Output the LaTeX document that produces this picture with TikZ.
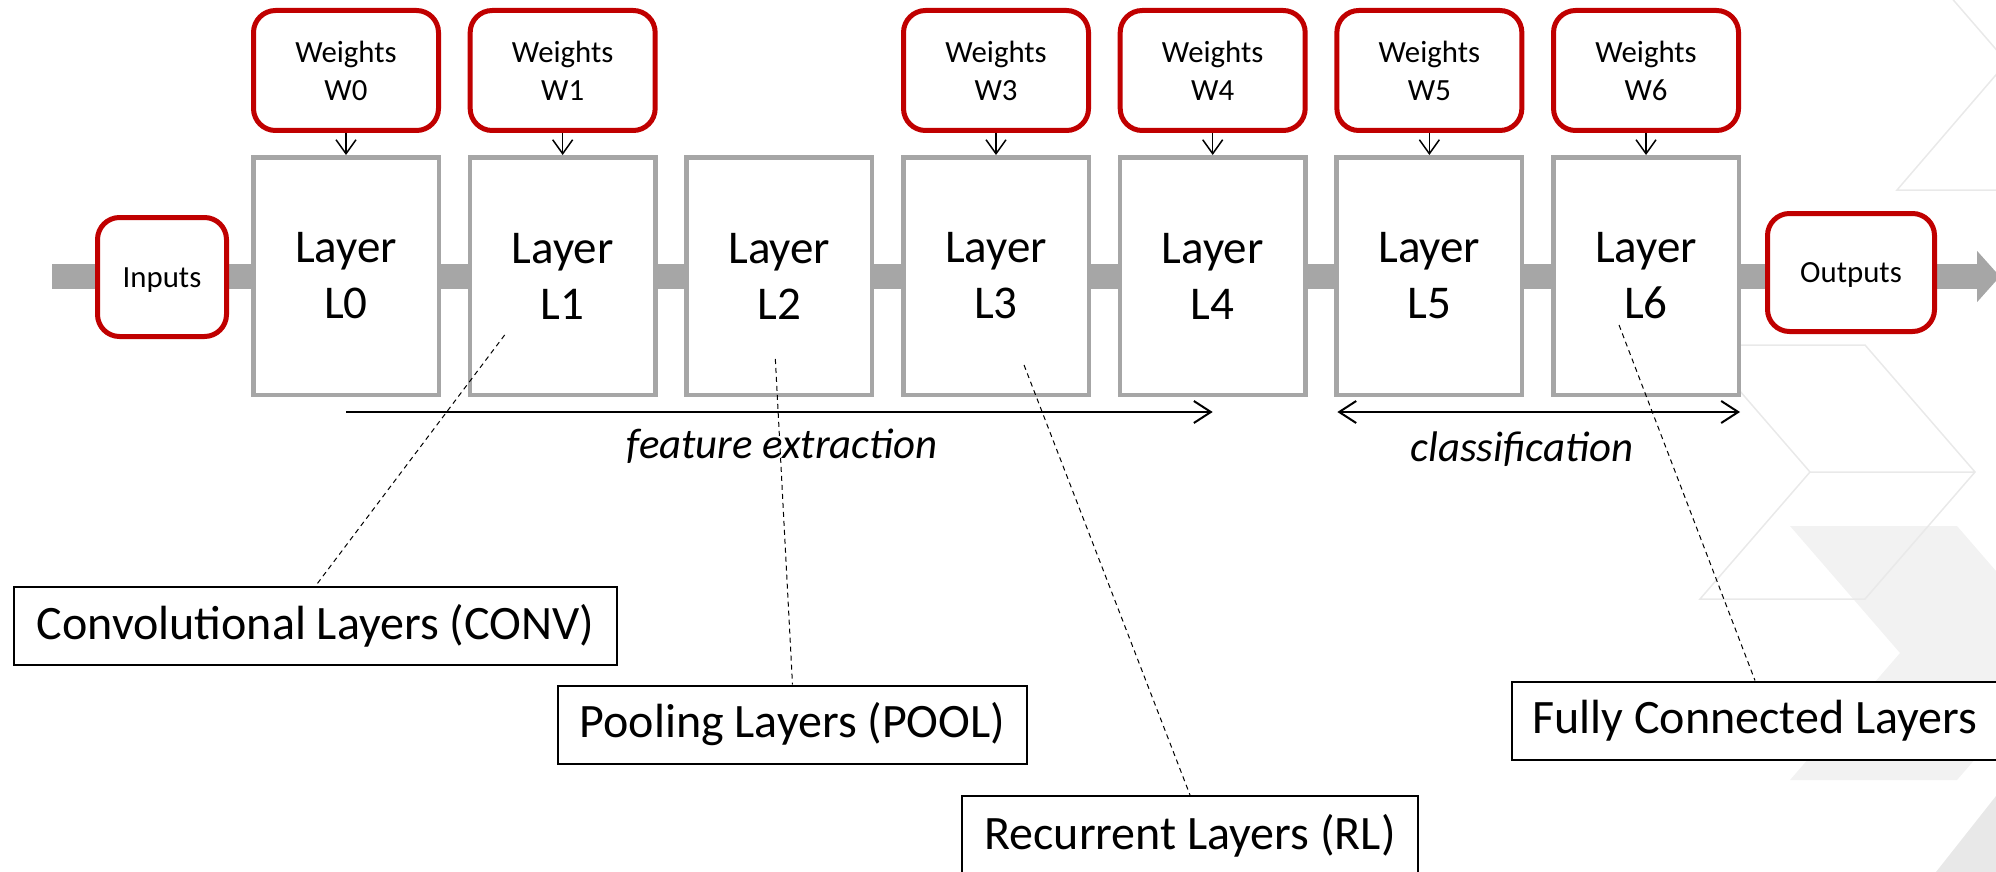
\documentclass[tikz,border=0pt]{standalone}
\usepackage{fontspec}
\setmainfont{Carlito}
\usetikzlibrary{arrows.meta,calc}
\definecolor{wred}{HTML}{C00000}
\definecolor{lgray}{HTML}{A6A6A6}
\definecolor{bgline}{HTML}{E9E9E9}
\definecolor{bgfill}{HTML}{F2F2F2}
\definecolor{bgdark}{HTML}{E8E8E8}
\tikzset{
  layerbox/.style={draw=lgray, line width=2.25pt, fill=white, minimum width=92.75pt,
    minimum height=118.75pt, inner sep=0pt, align=center, font=\fontsize{23.5}{28}\selectfont},
  wbox/.style={draw=wred, line width=2.5pt, fill=white, rounded corners=11pt,
    minimum width=92.5pt, minimum height=60pt, inner sep=0pt, align=center,
    font=\fontsize{15.4}{19}\selectfont},
  iobox/.style={wbox, text height=10pt, text depth=0pt},
  labelbox/.style={draw=black, line width=1pt, fill=white, minimum height=39pt,
    inner sep=0pt, font=\fontsize{24}{28}\selectfont},
  wire/.style={line width=0.75pt, -{Straight Barb[length=7pt,width=10pt]}},
  spanarrow/.style={line width=1pt},
  mybarb/.tip={Straight Barb[length=8.5pt,width=11pt]},
  leader/.style={line width=0.5pt, dash pattern=on 2.5pt off 2pt},
  bigtext/.style={font=\itshape\fontsize{21.4}{26}\selectfont, inner sep=0pt}
}
\begin{document}
\begin{tikzpicture}[x=0.5pt,y=-0.5pt]
\useasboundingbox (0,0) rectangle (1996,872);
% background decoration
\begin{scope}
\clip (0,0) rectangle (1996,872);
\fill[bgfill] (1790,526) -- (1957,526) -- (2067,653) -- (1957,780) -- (1790,780) -- (1900,653) -- cycle;
\fill[bgdark] (1936,872) -- (1996,796) -- (2100,796) -- (2100,900) -- (1900,900) -- cycle;
\draw[bgline, line width=0.75pt] (1700,345) -- (1865,345) -- (1975,472) -- (1865,599) -- (1700,599) -- (1810,472) -- cycle
  (1810,472) -- (1975,472);
\draw[bgline, line width=0.75pt] (1897,-65) -- (2062,-65) -- (2172,62) -- (2062,190) -- (1897,190) -- (2007,62) -- cycle
  (2007,62) -- (2172,62);
\end{scope}
% data bus
\coordinate (busstart) at (52,276.5);
\coordinate (bustip) at (2000,276.5);
\draw[lgray, line width=12.5pt, -{Triangle[length=11.5pt,width=25pt]}] (busstart) -- (bustip);
% layers and weights
\foreach \i in {0,...,6} {
  \node[layerbox] (L\i) at ({346+216.67*\i},276) {Layer\\L\i};
}
\foreach \i in {0,1,3,4,5,6} {
  \node[wbox] (W\i) at ({346+216.67*\i},70.5) {Weights\\W\i};
  \draw[wire] (W\i) -- (L\i);
}
\node[iobox, minimum width=64.5pt, minimum height=59.5pt] (In) at (162,277) {Inputs};
\node[iobox, minimum width=83.5pt, minimum height=59pt] (Out) at (1851,272.5) {Outputs};
% spans
\coordinate (fe1) at ($(L0.south)+(0,15)$);
\coordinate (fe2) at ($(L4.south)+(0,15)$);
\draw[spanarrow, -{mybarb}] (fe1) -- (fe2);
\coordinate (cl1) at ($(L5.south west)+(3,15)$);
\coordinate (cl2) at ($(L6.south east)+(-1,15)$);
\draw[spanarrow, {mybarb}-{mybarb}] (cl1) -- (cl2);
\node[bigtext] (fetext) at (782,446) {feature extraction};
\node[bigtext] (cltext) at (1522,449) {classification};
% label boxes
\node[labelbox, minimum width=301.5pt] (conv) at (315.5,626) {Convolutional Layers (CONV)};
\node[labelbox, minimum width=234.5pt] (pool) at (792.5,724.5) {Pooling Layers (POOL)};
\node[labelbox, minimum width=228pt, minimum height=40pt] (rl) at (1190,836) {Recurrent Layers (RL)};
\node[labelbox, minimum width=243pt] (fc) at (1755,720.5) {Fully Connected Layers};
% leaders
\coordinate (p1) at ($(L1.center)+(-58,59)$);
\coordinate (p2) at ($(L2.center)+(-4,83)$);
\coordinate (p3) at ($(L3.center)+(28,89)$);
\coordinate (p6) at ($(L6.center)+(-27,49)$);
\draw[leader] (p1) -- (conv.north);
\draw[leader] (p2) -- (pool.north);
\draw[leader] (p3) -- (rl.north);
\draw[leader] (p6) -- (fc.north);
\end{tikzpicture}
\end{document}
